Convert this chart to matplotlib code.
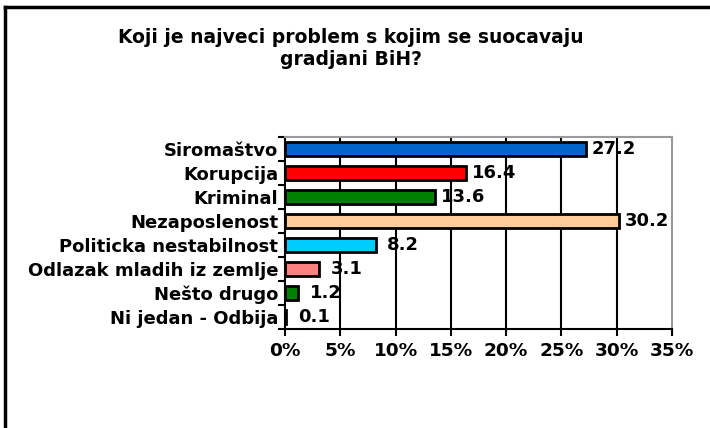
import matplotlib.pyplot as plt
from matplotlib.lines import Line2D
import numpy as np

categories = ["Siromaštvo", "Korupcija", "Kriminal", "Nezaposlenost",
              "Politicka nestabilnost", "Odlazak mladih iz zemlje",
              "Nešto drugo", "Ni jedan - Odbija"]
values = [27.2, 16.4, 13.6, 30.2, 8.2, 3.1, 1.2, 0.1]
colors = ["#0066CC", "#FF0000", "#008000", "#FFCC99",
          "#00CCFF", "#FF8080", "#008000", "#000080"]
xticks = [0, 5, 10, 15, 20, 25, 30, 35]

plt.rcParams['font.family'] = 'DejaVu Sans'
plt.rcParams['font.weight'] = 'bold'

fig = plt.figure(figsize=(7.1, 4.28), dpi=100)
ax = fig.add_axes([0.4014, 0.2313, 0.5451, 0.4487])

y = np.arange(len(categories))
ax.barh(y, values, height=0.58, color=colors, edgecolor='black', linewidth=2, zorder=3)
# labels sit centred a fixed distance past the bar end, like Excel does
for yi, v in zip(y, values):
    ax.text(v + 2.5, yi, f"{v}", va='center', ha='center', fontsize=13, fontweight='bold', zorder=4)

ax.set_xlim(0, 35)
ax.set_ylim(len(categories) - 0.5, -0.5)
ax.set_xticks(xticks)
ax.set_xticklabels([f"{t}%" for t in xticks], fontsize=13.3, fontweight='bold')
ax.set_yticks(y)
ax.set_yticklabels(categories, fontsize=13, fontweight='bold')
ax.tick_params(axis='y', which='major', length=0, pad=5)
ax.set_yticks(np.arange(-0.5, len(categories), 1), minor=True)
ax.tick_params(axis='y', which='minor', length=5, width=1.5, direction='out')
ax.tick_params(axis='x', length=5, width=1.5, direction='out', pad=4)

for t in xticks[1:-1]:
    ax.axvline(t, color='black', linewidth=1.5, zorder=1)

ax.spines['left'].set_linewidth(1.5)
ax.spines['bottom'].set_linewidth(1.5)
ax.spines['top'].set_color('#999999')
ax.spines['right'].set_color('#999999')
ax.spines['top'].set_linewidth(1.5)
ax.spines['right'].set_linewidth(1.5)

fig.text(0.494, 0.886, "Koji je najveci problem s kojim se suocavaju\ngradjani BiH?",
         ha='center', va='center', fontsize=13.5, fontweight='bold', linespacing=1.2)

fig.add_artist(Line2D([0.0077, 1.0], [0.9825, 0.9825], color='black', linewidth=2.5, transform=fig.transFigure))
fig.add_artist(Line2D([0.0077, 0.0077], [0.0, 0.9825], color='black', linewidth=2.5, transform=fig.transFigure))

fig.savefig('out.png', dpi=100)
